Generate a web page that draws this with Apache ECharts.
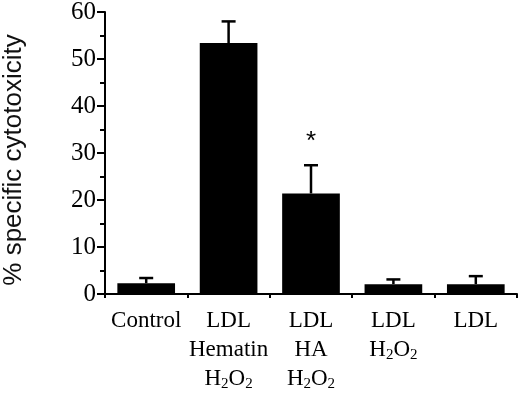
<!DOCTYPE html>
<html>
<head>
<meta charset="utf-8">
<script src="https://cdn.jsdelivr.net/npm/echarts@6/dist/echarts.min.js"></script>
<style>
    html, body { margin: 0; padding: 0; background: #fff; }
    #container { width: 520px; height: 395px; }
</style>
</head>
<body>
<div id="container"></div>
<script>
    // 数据
    let categories = ['Control', 'LDL\nHematin\nH2O2', 'LDL\nHA\nH2O2', 'LDL\nH2O2', 'LDL'];
    let values = [2.3, 53.4, 21.4, 2.1, 2.1];
    let errors = [1.1, 4.6, 6.0, 1.0, 1.7];
    let marks = ['', '', '*', '', ''];
    let yTicks = [0, 10, 20, 30, 40, 50, 60];

    // H2O2 -> 下标格式
    function formatLabel(value) {
        return value.split('\n').map(function (line) {
            if (line === 'H2O2') {
                return '{n|H}{s|2}{n|O}{s|2}';
            }
            return '{n|' + line + '}';
        }).join('\n');
    }

    let dom = document.getElementById('container');
    let myChart = echarts.init(dom);
    let serif = 'Liberation Serif';

    let option = {
        animation: false,
        grid: {
            left: 105,
            right: 3,
            top: 12,
            bottom: 101,
            containLabel: false,
            outerBoundsMode: 'none'
        },
        xAxis: {
            type: 'category',
            data: categories,
            axisLine: { lineStyle: { color: '#000', width: 2 } },
            axisTick: { show: true, length: 4, lineStyle: { color: '#000', width: 2 } },
            axisLabel: {
                margin: 12,
                interval: 0,
                color: '#000',
                formatter: formatLabel,
                rich: {
                    n: { fontFamily: serif, fontSize: 23, lineHeight: 29, color: '#000' },
                    s: { fontFamily: serif, fontSize: 15, lineHeight: 29, color: '#000', padding: [11, 0, 0, 0] }
                }
            }
        },
        yAxis: {
            type: 'value',
            min: 0,
            max: yTicks[yTicks.length - 1],
            interval: 10,
            name: '% specific cytotoxicity',
            nameLocation: 'middle',
            nameGap: 78,
            nameTextStyle: { fontFamily: 'Liberation Sans', fontSize: 26, color: '#111', padding: [0, 14, 0, 0] },
            axisLine: { show: true, lineStyle: { color: '#000', width: 2 } },
            axisTick: { show: true, length: 8, lineStyle: { color: '#000', width: 2 } },
            minorTick: { show: true, splitNumber: 2, length: 5, lineStyle: { color: '#000', width: 2 } },
            splitLine: { show: false },
            axisLabel: {
                margin: 9,
                fontFamily: serif,
                fontSize: 25,
                color: '#000'
            }
        },
        series: [{
            type: 'bar',
            data: values,
            barWidth: '70%',
            itemStyle: { color: '#000' }
        }, {
            type: 'custom',
            data: values.map(function (v, i) { return [i, v, errors[i], marks[i]]; }),
            renderItem: function (params, api) {
                let base = api.coord([api.value(0), api.value(1)]);
                let top = api.coord([api.value(0), api.value(1) + api.value(2)]);
                let half = 7;
                let children = [{
                    type: 'line',
                    shape: { x1: base[0], y1: base[1], x2: top[0], y2: top[1] },
                    style: { stroke: '#000', lineWidth: 2.5 }
                }, {
                    type: 'line',
                    shape: { x1: top[0] - half, y1: top[1], x2: top[0] + half, y2: top[1] },
                    style: { stroke: '#000', lineWidth: 2.5 }
                }];
                let mark = marks[params.dataIndex];
                if (mark) {
                    children.push({
                        type: 'text',
                        style: {
                            text: mark,
                            x: top[0],
                            y: top[1] - 10,
                            align: 'center',
                            verticalAlign: 'bottom',
                            fontFamily: 'Liberation Sans',
                            fontSize: 26,
                            fill: '#000'
                        }
                    });
                }
                return { type: 'group', children: children };
            },
            z: 3
        }]
    };

    myChart.setOption(option, true);
</script>
</body>
</html>
